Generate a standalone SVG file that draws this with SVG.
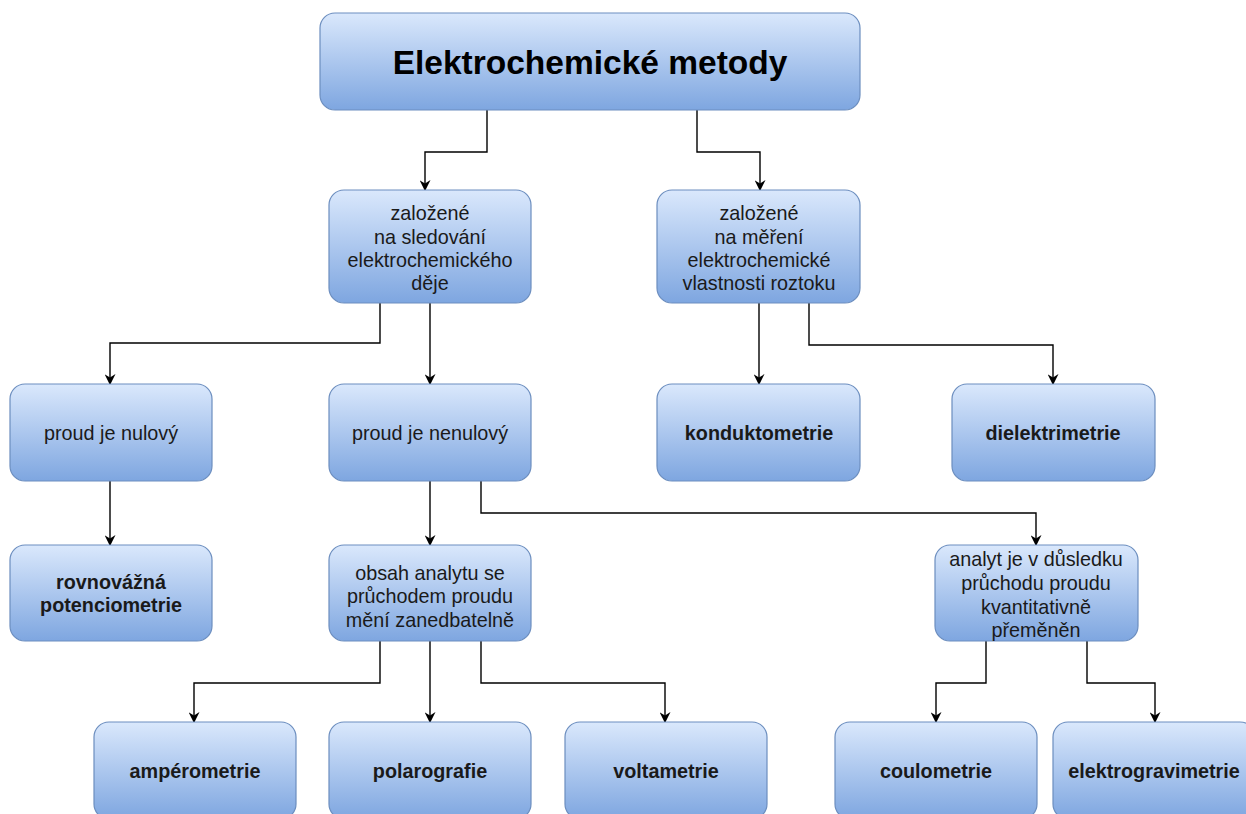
<svg xmlns="http://www.w3.org/2000/svg" width="1246" height="814" viewBox="0 0 1246 814">
<style>
.box{fill:url(#g);stroke:#6c8ebf;stroke-width:1.2}
text{font-family:"Liberation Sans",Arial,sans-serif;font-size:19.8px;fill:#1a1a1a;text-anchor:middle}
.b{font-weight:bold}
.t{font-size:33.5px;font-weight:bold;fill:#000}
.c{fill:none;stroke:#000;stroke-width:1.4}
</style>
<defs>
<linearGradient id="g" x1="0" y1="0" x2="0" y2="1">
<stop offset="0" stop-color="#dae8fc"/>
<stop offset="1" stop-color="#7ea6e0"/>
</linearGradient>
<marker id="a" viewBox="0 0 10 10" refX="9" refY="5" markerWidth="11" markerHeight="11" markerUnits="userSpaceOnUse" orient="auto">
<path d="M0,0 L10,5 L0,10 L3,5 Z" fill="#000"/>
</marker>
</defs>
<g id="connectors">
<path class="c" marker-end="url(#a)" d="M487,110 V152 H425 V190"/>
<path class="c" marker-end="url(#a)" d="M697,110 V152 H760 V190"/>
<path class="c" marker-end="url(#a)" d="M380,303 V343 H110 V384"/>
<path class="c" marker-end="url(#a)" d="M430,303 V384"/>
<path class="c" marker-end="url(#a)" d="M759,303 V384"/>
<path class="c" marker-end="url(#a)" d="M809,303 V345 H1053 V384"/>
<path class="c" marker-end="url(#a)" d="M110,481 V545"/>
<path class="c" marker-end="url(#a)" d="M430,481 V545"/>
<path class="c" marker-end="url(#a)" d="M481,481 V513 H1036 V545"/>
<path class="c" marker-end="url(#a)" d="M380,641 V683 H194 V722"/>
<path class="c" marker-end="url(#a)" d="M430,641 V722"/>
<path class="c" marker-end="url(#a)" d="M481,641 V683 H665 V722"/>
<path class="c" marker-end="url(#a)" d="M986,641 V683 H936 V722"/>
<path class="c" marker-end="url(#a)" d="M1087,641 V683 H1155 V722"/>
</g>
<g id="n-root"><rect class="box" x="320" y="13" width="540" height="97" rx="15"/><text class="t" x="590" y="74">Elektrochemické metody</text></g>
<g id="n-sled"><rect class="box" x="329" y="190" width="202" height="113" rx="15"/>
<text x="430" y="220">založené</text><text x="430" y="244">na sledování</text><text x="430" y="267">elektrochemického</text><text x="430" y="290">děje</text></g>
<g id="n-mer"><rect class="box" x="657" y="190" width="203" height="113" rx="15"/>
<text x="759" y="220">založené</text><text x="759" y="244">na měření</text><text x="759" y="267">elektrochemické</text><text x="759" y="290">vlastnosti roztoku</text></g>
<g id="n-nul"><rect class="box" x="10" y="384" width="202" height="97" rx="15"/><text x="111" y="440">proud je nulový</text></g>
<g id="n-nenul"><rect class="box" x="329" y="384" width="202" height="97" rx="15"/><text x="430" y="440">proud je nenulový</text></g>
<g id="n-kond"><rect class="box" x="657" y="384" width="203" height="97" rx="15"/><text class="b" x="759" y="440">konduktometrie</text></g>
<g id="n-diel"><rect class="box" x="952" y="384" width="203" height="97" rx="15"/><text class="b" x="1053" y="440">dielektrimetrie</text></g>
<g id="n-rovn"><rect class="box" x="10" y="545" width="202" height="96" rx="15"/><text class="b" x="111" y="589">rovnovážná</text><text class="b" x="111" y="612">potenciometrie</text></g>
<g id="n-obsah"><rect class="box" x="329" y="545" width="202" height="96" rx="15"/>
<text x="430" y="580">obsah analytu se</text><text x="430" y="603">průchodem proudu</text><text x="430" y="627">mění zanedbatelně</text></g>
<g id="n-analyt"><rect class="box" x="935" y="545" width="203" height="96" rx="15"/>
<text x="1036" y="566">analyt je v důsledku</text><text x="1036" y="590">průchodu proudu</text><text x="1036" y="614">kvantitativně</text><text x="1036" y="637">přeměněn</text></g>
<g id="n-amp"><rect class="box" x="94" y="722" width="202" height="97" rx="15"/><text class="b" x="195" y="778">ampérometrie</text></g>
<g id="n-pol"><rect class="box" x="329" y="722" width="202" height="97" rx="15"/><text class="b" x="430" y="778">polarografie</text></g>
<g id="n-volt"><rect class="box" x="565" y="722" width="202" height="97" rx="15"/><text class="b" x="666" y="778">voltametrie</text></g>
<g id="n-coul"><rect class="box" x="835" y="722" width="202" height="97" rx="15"/><text class="b" x="936" y="778">coulometrie</text></g>
<g id="n-grav"><rect class="box" x="1053" y="722" width="202" height="97" rx="15"/><text class="b" x="1154" y="778">elektrogravimetrie</text></g>
</svg>
